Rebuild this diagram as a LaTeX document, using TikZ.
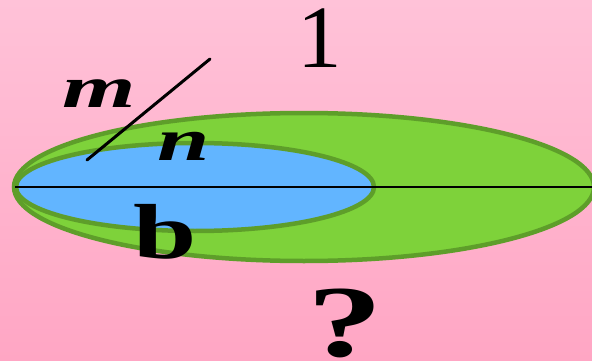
\documentclass[tikz,border=0pt]{standalone}
\usepackage{fontspec}
\setmainfont{Liberation Serif}
\usetikzlibrary{positioning}
\definecolor{bgtop}{RGB}{255,194,216}
\definecolor{bgbottom}{RGB}{255,166,196}
\definecolor{greenfill}{RGB}{126,210,58}
\definecolor{greenedge}{RGB}{94,158,42}
\definecolor{bluefill}{RGB}{98,181,255}

\begin{document}
\begin{tikzpicture}[
    x=1pt, y=-1pt,
    disc/.style={draw=greenedge, line width=4.5pt},
    axis/.style={draw=black, line width=1.6pt},
    slash/.style={draw=black, line width=3pt, line cap=round},
    label/.style={inner sep=0pt, anchor=base, text=black}
]
    % Background
    \shade[top color=bgtop, bottom color=bgbottom] (0,0) rectangle (592,361);
    \useasboundingbox (0,0) rectangle (592,361);

    % Ellipses
    \coordinate (greenc) at (304,187);
    \coordinate (bluec) at (195,187);
    \path[disc, fill=greenfill] (greenc) ellipse [x radius=290, y radius=74];
    \path[disc, fill=bluefill] (bluec) ellipse [x radius=179, y radius=44];

    % Lines
    \coordinate (lineL) at (15,187);
    \coordinate (lineR) at (592,187);
    \coordinate (slashA) at (87,160);
    \coordinate (slashB) at (210,59);
    \draw[axis] (lineL) -- (lineR);
    \draw[slash] (slashA) -- (slashB);

    % Labels
    \node[label, font=\fontsize{59}{59}\selectfont\bfseries\itshape] (m) at (99,107) {\scalebox{1.6}[1]{m}};
    \node[label, font=\fontsize{60}{60}\selectfont\bfseries\itshape] (n) at (184,160) {\scalebox{1.57}[1]{n}};
    \node[label, font=\fontsize{89}{89}\selectfont] (one) at (320,67) {1};
    \node[label, font=\fontsize{78}{78}\selectfont\bfseries] (b) at (165,258) {\scalebox{1.46}[1]{b}};
    \node[label, font=\fontsize{102}{102}\selectfont\bfseries] (q) at (345,356) {\scalebox{1.48}[1]{?}};
\end{tikzpicture}
\end{document}
